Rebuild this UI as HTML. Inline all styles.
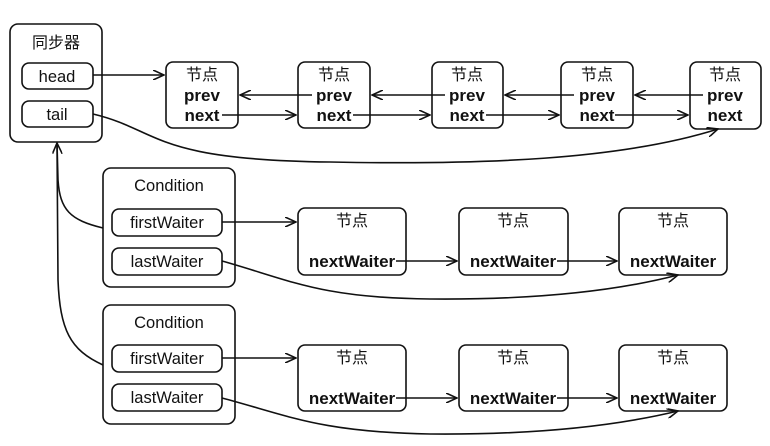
<!DOCTYPE html>
<html><head><meta charset="utf-8"><style>
html,body{margin:0;padding:0;background:#fff;}
svg{display:block}
text{font-family:"Liberation Sans","Noto Sans CJK SC",sans-serif;fill:#111;}
.b{font-weight:bold;font-size:17px}
.n{font-size:16.5px}
.c{font-size:16px}
</style></head><body>
<svg width="770" height="446" viewBox="0 0 770 446" xmlns="http://www.w3.org/2000/svg">
<defs>
<marker id="a" markerWidth="12" markerHeight="10" refX="11" refY="5" orient="auto" markerUnits="userSpaceOnUse">
<path d="M0,0 L11,5 L0,10" fill="none" stroke="#111" stroke-width="1.6"/>
</marker>
</defs>
<g fill="none" stroke="#111" stroke-width="1.6">
<rect x="10" y="24" width="92" height="118" rx="8"/>
<rect x="22" y="63" width="71" height="26" rx="7"/>
<rect x="22" y="101" width="71" height="26" rx="7"/>
<rect x="166" y="62" width="72" height="66" rx="7"/>
<rect x="298" y="62" width="72" height="66" rx="7"/>
<rect x="432" y="62" width="71" height="66" rx="7"/>
<rect x="561" y="62" width="72" height="66" rx="7"/>
<rect x="690" y="62" width="71" height="67" rx="7"/>
<rect x="103" y="168" width="132" height="119" rx="8"/>
<rect x="112" y="209" width="110" height="27" rx="7"/>
<rect x="112" y="248" width="110" height="27" rx="7"/>
<rect x="103" y="305" width="132" height="119" rx="8"/>
<rect x="112" y="345" width="110" height="27" rx="7"/>
<rect x="112" y="384" width="110" height="27" rx="7"/>
<rect x="298" y="208" width="108" height="67" rx="7"/>
<rect x="459" y="208" width="109" height="67" rx="7"/>
<rect x="619" y="208" width="108" height="67" rx="7"/>
<rect x="298" y="345" width="108" height="66" rx="7"/>
<rect x="459" y="345" width="109" height="66" rx="7"/>
<rect x="619" y="345" width="108" height="66" rx="7"/>
<line x1="93" y1="75" x2="164" y2="75" marker-end="url(#a)"/>
<line x1="222" y1="115" x2="296" y2="115" marker-end="url(#a)"/>
<line x1="353" y1="115" x2="430" y2="115" marker-end="url(#a)"/>
<line x1="486" y1="115" x2="559" y2="115" marker-end="url(#a)"/>
<line x1="615" y1="115" x2="688" y2="115" marker-end="url(#a)"/>
<line x1="312" y1="95" x2="240" y2="95" marker-end="url(#a)"/>
<line x1="445" y1="95" x2="372" y2="95" marker-end="url(#a)"/>
<line x1="574" y1="95" x2="505" y2="95" marker-end="url(#a)"/>
<line x1="703" y1="95" x2="635" y2="95" marker-end="url(#a)"/>
<path d="M93,114 C160,130 150,160 330,162 C480,165 620,160 718,129" marker-end="url(#a)"/>
<line x1="222" y1="222" x2="296" y2="222" marker-end="url(#a)"/>
<line x1="396" y1="261" x2="457" y2="261" marker-end="url(#a)"/>
<line x1="557" y1="261" x2="617" y2="261" marker-end="url(#a)"/>
<path d="M222,261 C290,280 320,298 430,299 C540,300 620,290 678,275" marker-end="url(#a)"/>
<line x1="222" y1="358" x2="296" y2="358" marker-end="url(#a)"/>
<line x1="396" y1="398" x2="457" y2="398" marker-end="url(#a)"/>
<line x1="557" y1="398" x2="617" y2="398" marker-end="url(#a)"/>
<path d="M222,398 C290,416 320,432 430,434 C540,435 620,425 678,411" marker-end="url(#a)"/>
<path d="M103,228 C70,220 60,210 58,180 L57,143" marker-end="url(#a)"/>
<path d="M103,365 C70,350 60,330 58,280 L57,143"/>
</g>
<text x="56" y="48" text-anchor="middle" class="c">同步器</text>
<text x="57" y="82" text-anchor="middle" class="n">head</text>
<text x="57" y="120" text-anchor="middle" class="n">tail</text>
<g class="b" text-anchor="middle">
<text x="202" y="80" font-weight="normal" font-size="16">节点</text><text x="202" y="101">prev</text><text x="202" y="121">next</text>
<text x="334" y="80" font-weight="normal" font-size="16">节点</text><text x="334" y="101">prev</text><text x="334" y="121">next</text>
<text x="467" y="80" font-weight="normal" font-size="16">节点</text><text x="467" y="101">prev</text><text x="467" y="121">next</text>
<text x="597" y="80" font-weight="normal" font-size="16">节点</text><text x="597" y="101">prev</text><text x="597" y="121">next</text>
<text x="725" y="80" font-weight="normal" font-size="16">节点</text><text x="725" y="101">prev</text><text x="725" y="121">next</text>
<text x="352" y="226" font-weight="normal" font-size="16">节点</text><text x="352" y="267">nextWaiter</text>
<text x="513" y="226" font-weight="normal" font-size="16">节点</text><text x="513" y="267">nextWaiter</text>
<text x="673" y="226" font-weight="normal" font-size="16">节点</text><text x="673" y="267">nextWaiter</text>
<text x="352" y="363" font-weight="normal" font-size="16">节点</text><text x="352" y="404">nextWaiter</text>
<text x="513" y="363" font-weight="normal" font-size="16">节点</text><text x="513" y="404">nextWaiter</text>
<text x="673" y="363" font-weight="normal" font-size="16">节点</text><text x="673" y="404">nextWaiter</text>
</g>
<g class="n" text-anchor="middle">
<text x="169" y="191">Condition</text>
<text x="167" y="228">firstWaiter</text>
<text x="167" y="267">lastWaiter</text>
<text x="169" y="328">Condition</text>
<text x="167" y="364">firstWaiter</text>
<text x="167" y="403">lastWaiter</text>
</g>
</svg>
</body></html>
